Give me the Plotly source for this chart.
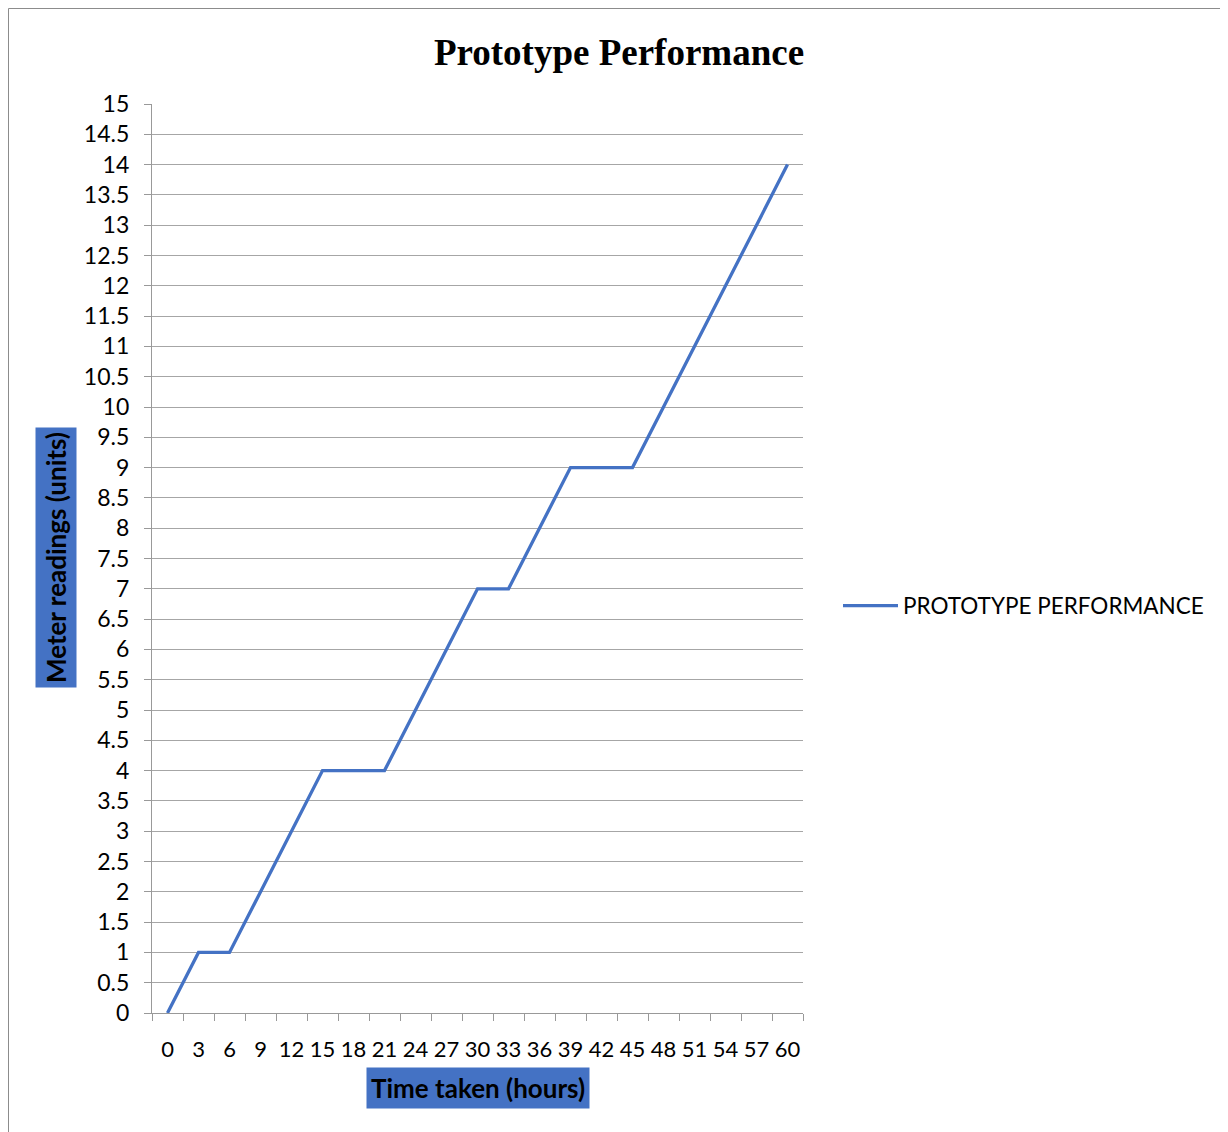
import plotly.graph_objects as go

hours = ["0", "3", "6", "9", "12", "15", "18", "21", "24", "27", "30",
         "33", "36", "39", "42", "45", "48", "51", "54", "57", "60"]
readings = [0, 1, 1, 2, 3, 4, 4, 4, 5, 6, 7, 7, 8, 9, 9, 9, 10, 11, 12, 13, 14]
y_ticks = [i * 0.5 for i in range(31)]
y_labels = [("%g" % v) for v in y_ticks]

OFF = 8  # page body margin
W, H = 1228 - OFF, 1132 - OFF
# plot area in screen pixels
X0, X1, Y0, Y1 = 152, 803, 104, 1013
L, R, T, B = X0 - OFF, 1228 - X1, Y0 - OFF, 1132 - Y1
pw, ph = X1 - X0, Y1 - Y0

def px_x(x):
    return (x - X0) / pw

def px_y(y):
    return (Y1 - y) / ph

fig = go.Figure()
fig.add_trace(go.Scatter(
    x=hours, y=readings, mode="lines", name="PROTOTYPE PERFORMANCE",
    line=dict(color="#4472C4", width=3.3)))

fig.update_layout(
    width=W, height=H,
    margin=dict(l=L, r=R, t=T, b=B, autoexpand=False),
    paper_bgcolor="white", plot_bgcolor="white",
    font=dict(family="Lato", size=22, color="black"),
    title=dict(text="<b>Prototype Performance</b>", x=px_x(619), xref="paper", xanchor="center",
               y=1 - (52 - OFF) / H, yanchor="middle",
               font=dict(family="Liberation Serif", size=37, color="black")),
    showlegend=True,
    legend=dict(x=px_x(838), y=px_y(606), xanchor="left", yanchor="middle",
                font=dict(size=22.5, color="black"), itemwidth=55,
                bgcolor="rgba(0,0,0,0)"),
    xaxis=dict(type="category", range=[-0.5, 20.5], showgrid=False, showline=True,
               linecolor="#999999", linewidth=1.3, ticks="outside", tickson="boundaries",
               ticklen=7, tickcolor="#999999", ticklabelstandoff=16, tickangle=0,
               tickfont=dict(size=22)),
    yaxis=dict(range=[0, 15], tickvals=y_ticks, ticktext=y_labels, showgrid=True,
               gridcolor="#a6a6a6", gridwidth=1.3, showline=True, linecolor="#999999",
               linewidth=1.3, ticks="outside", ticklen=7, tickcolor="#999999", zeroline=False,
               ticklabelstandoff=10, tickfont=dict(size=23)),
)

# Axis titles with blue boxes
fig.add_annotation(text="<b>Meter readings (units)</b>", xref="paper", yref="paper",
                   x=px_x(56), y=px_y(558), textangle=-90, showarrow=False,
                   font=dict(family="Lato", size=26, color="black"),
                   bgcolor="#4472C4", borderpad=4, xanchor="center", yanchor="middle")
fig.add_annotation(text="<b>Time taken (hours)</b>", xref="paper", yref="paper",
                   x=px_x(478), y=px_y(1088), showarrow=False,
                   font=dict(family="Lato", size=26, color="black"),
                   bgcolor="#4472C4", borderpad=4, xanchor="center", yanchor="middle")

# Chart border
fig.add_shape(type="rect", xref="paper", yref="paper",
              x0=px_x(OFF + 0.5), x1=px_x(1240), y0=px_y(1145), y1=px_y(OFF + 0.5),
              line=dict(color="#8c8c8c", width=1), fillcolor="rgba(0,0,0,0)", layer="below")

fig.write_html("out.html")
